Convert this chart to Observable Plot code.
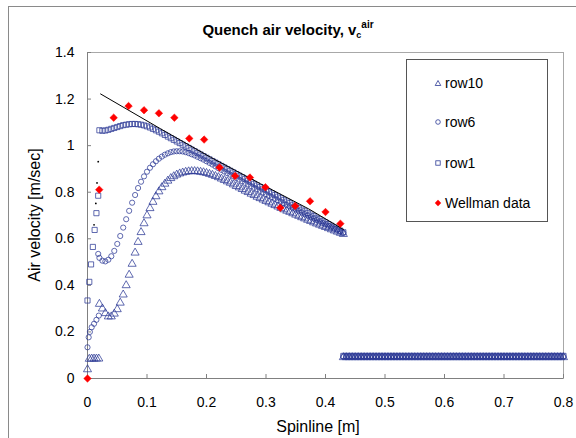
<!DOCTYPE html>
<html><head><meta charset="utf-8">
<script src="https://cdn.jsdelivr.net/npm/d3@7"></script>
<script src="https://cdn.jsdelivr.net/npm/@observablehq/plot@0.6"></script>
<style>
html,body{margin:0;padding:0;background:#fff;}
body{width:576px;height:438px;overflow:hidden;font-family:"Liberation Sans",Arial,sans-serif;color:#000;}
#wrap{position:relative;width:576px;height:438px;overflow:hidden;}
#border{position:absolute;left:8px;top:6px;width:600px;height:460px;border:1px solid #8a8a8a;box-sizing:border-box;}
#chart{position:absolute;left:0;top:0;}
#title{position:absolute;left:0;top:19px;width:576px;text-align:center;font-weight:bold;font-size:15px;}
#title sub{font-size:9px;vertical-align:-3px;}
#title sup{font-size:10px;vertical-align:7px;}
#ylabel{position:absolute;left:35px;top:215px;transform:translate(-50%,-50%) rotate(-90deg);font-size:16px;white-space:nowrap;}
#xlabel{position:absolute;left:318px;top:427px;transform:translate(-50%,-50%);font-size:16px;white-space:nowrap;}
#legend{position:absolute;left:406px;top:59px;width:142px;height:163px;border:1px solid #555;box-sizing:border-box;background:#fff;}
.item{position:absolute;left:0;height:16px;font-size:14px;line-height:16px;}
.item svg{position:absolute;left:26px;top:3px;}
.item span{position:absolute;left:38px;top:0;white-space:nowrap;}
</style></head>
<body><div id="wrap">
<div id="border"></div>
<div id="chart"></div>
<div id="title">Quench air velocity, v<sub>c</sub><sup>air</sup></div>
<div id="ylabel">Air velocity [m/sec]</div>
<div id="xlabel">Spinline [m]</div>
<div id="legend"></div>
</div>
<script>
const seriesNames = ["row10", "row6", "row1", "Wellman data"];
const xTicks = [0, 0.1, 0.2, 0.3, 0.4, 0.5, 0.6, 0.7, 0.8];
const yTicks = [0, 0.2, 0.4, 0.6, 0.8, 1, 1.2, 1.4];

// shared x positions of the main (0.02 .. 0.43) part of the CFD rows
const xMain = [0.020,0.025,0.030,0.035,0.040,0.045,0.050,0.055,0.060,0.065,0.070,0.075,0.080,0.085,0.090,0.095,0.100,0.105,0.110,0.115,0.120,0.125,0.130,0.135,0.140,0.145,0.150,0.155,0.160,0.165,0.170,0.175,0.180,0.185,0.190,0.195,0.200,0.205,0.210,0.215,0.220,0.225,0.230,0.235,0.240,0.245,0.250,0.255,0.260,0.265,0.270,0.275,0.280,0.285,0.290,0.295,0.300,0.305,0.310,0.315,0.320,0.325,0.330,0.335,0.340,0.345,0.350,0.355,0.360,0.365,0.370,0.375,0.380,0.385,0.390,0.395,0.400,0.405,0.410,0.415,0.420,0.425,0.430];

const row1Main = [1.066,1.064,1.065,1.068,1.072,1.076,1.080,1.084,1.088,1.090,1.092,1.093,1.093,1.092,1.090,1.087,1.083,1.078,1.072,1.066,1.060,1.053,1.046,1.039,1.032,1.025,1.018,1.011,1.004,0.997,0.990,0.983,0.976,0.969,0.962,0.955,0.948,0.941,0.934,0.927,0.920,0.913,0.906,0.899,0.892,0.885,0.878,0.871,0.864,0.857,0.850,0.843,0.836,0.829,0.822,0.815,0.809,0.802,0.795,0.788,0.781,0.774,0.767,0.760,0.753,0.746,0.739,0.732,0.725,0.718,0.711,0.704,0.697,0.690,0.684,0.677,0.670,0.663,0.656,0.649,0.642,0.635,0.628];

const row6Main = [0.518,0.506,0.503,0.510,0.525,0.548,0.578,0.612,0.648,0.684,0.720,0.755,0.788,0.818,0.845,0.868,0.888,0.905,0.920,0.933,0.944,0.953,0.961,0.967,0.972,0.975,0.976,0.976,0.975,0.972,0.968,0.963,0.958,0.952,0.946,0.940,0.933,0.926,0.919,0.911,0.903,0.896,0.889,0.882,0.875,0.868,0.861,0.854,0.847,0.840,0.833,0.826,0.819,0.813,0.806,0.799,0.792,0.785,0.779,0.772,0.765,0.759,0.752,0.745,0.739,0.732,0.726,0.719,0.713,0.706,0.700,0.693,0.687,0.681,0.674,0.668,0.662,0.656,0.650,0.644,0.638,0.632,0.626];

const row10Main = [0.320,0.300,0.280,0.266,0.266,0.278,0.297,0.325,0.360,0.400,0.445,0.492,0.540,0.586,0.628,0.666,0.700,0.731,0.758,0.782,0.803,0.821,0.836,0.849,0.860,0.868,0.875,0.880,0.884,0.887,0.889,0.890,0.890,0.889,0.887,0.885,0.882,0.878,0.874,0.869,0.864,0.858,0.852,0.846,0.840,0.833,0.826,0.820,0.813,0.806,0.800,0.793,0.787,0.780,0.774,0.768,0.762,0.756,0.750,0.744,0.738,0.732,0.726,0.720,0.715,0.709,0.703,0.698,0.692,0.687,0.681,0.676,0.670,0.665,0.660,0.655,0.650,0.645,0.640,0.635,0.630,0.625,0.620];

// points right at the inlet (x < 0.02)
const row1StartX = [0, 0.003, 0.006, 0.009, 0.012, 0.015, 0.018];
const row1StartY = [0.335, 0.415, 0.490, 0.565, 0.638, 0.710, 0.785];
const row6StartX = [0, 0.002, 0.004, 0.007, 0.011, 0.015, 0.019, 0.018];
const row6StartY = [0.134, 0.177, 0.200, 0.220, 0.235, 0.252, 0.270, 0.535];
const row10StartX = [0, 0.003, 0.007, 0.011, 0.015, 0.019];
const row10StartY = [0.039, 0.084, 0.085, 0.085, 0.085, 0.085];

// flat part after the quench zone (0.43 .. 0.8)
const xTail = [0.430,0.435,0.440,0.445,0.450,0.455,0.460,0.465,0.470,0.475,0.480,0.485,0.490,0.495,0.500,0.505,0.510,0.515,0.520,0.525,0.530,0.535,0.540,0.545,0.550,0.555,0.560,0.565,0.570,0.575,0.580,0.585,0.590,0.595,0.600,0.605,0.610,0.615,0.620,0.625,0.630,0.635,0.640,0.645,0.650,0.655,0.660,0.665,0.670,0.675,0.680,0.685,0.690,0.695,0.700,0.705,0.710,0.715,0.720,0.725,0.730,0.735,0.740,0.745,0.750,0.755,0.760,0.765,0.770,0.775,0.780,0.785,0.790,0.795,0.800];
const row1TailY = 0.097;
const row6TailY = 0.094;
const row10TailY = 0.091;

// black reference line and its marks at the inlet
const lineX = [0.022, 0.123, 0.207, 0.291, 0.372, 0.430];
const lineY = [1.222, 1.072, 0.950, 0.836, 0.728, 0.640];
const blackDotX = [0.011, 0.014, 0.016, 0.018];
const blackDotY = [0.660, 0.752, 0.840, 0.931];

// Wellman measurements
const wellX = [0, 0.0197, 0.044, 0.069, 0.095, 0.120, 0.146, 0.171, 0.196, 0.222, 0.248, 0.273, 0.299, 0.324, 0.349, 0.374, 0.400, 0.425];
const wellY = [0, 0.811, 1.120, 1.170, 1.152, 1.139, 1.120, 1.031, 1.026, 0.906, 0.870, 0.863, 0.821, 0.733, 0.741, 0.761, 0.715, 0.665];

const blue = "#2c3a96";
const red = "#ff0000";

function pts(xs, ys) { return xs.map((x, i) => ({x, y: ys[i]})); }
function tail(y) { return xTail.map(x => ({x, y})); }

const row10 = [...pts(row10StartX, row10StartY), ...pts(xMain, row10Main), ...tail(row10TailY)];
const row6 = [...pts(row6StartX, row6StartY), ...pts(xMain, row6Main), ...tail(row6TailY)];
const row1 = [...pts(row1StartX, row1StartY), ...pts(xMain, row1Main), ...tail(row1TailY)];
const blackLine = pts(lineX, lineY);
const blackDots = pts(blackDotX, blackDotY);
const well = pts(wellX, wellY);

const chart = Plot.plot({
  width: 576, height: 438,
  marginLeft: 87, marginRight: 13, marginTop: 52, marginBottom: 60,
  style: {fontFamily: "'Liberation Sans', Arial, sans-serif", fontSize: "14px", background: "transparent", color: "#000"},
  x: {domain: [0, 0.8]},
  y: {domain: [0, 1.4]},
  marks: [
    Plot.frame({stroke: "#a8a8a8"}),
    Plot.ruleY([0], {stroke: "#808080"}),
    Plot.ruleX([0], {stroke: "#808080"}),
    Plot.axisX({ticks: xTicks, tickFormat: d => String(d), tickSize: -4, tickPadding: 23, stroke: "#808080", fill: "#000", label: null, fontSize: 14}),
    Plot.axisY({ticks: yTicks, tickFormat: d => String(d), tickSize: -4, tickPadding: 17, stroke: "#808080", fill: "#000", label: null, fontSize: 14}),
    Plot.dot(row10, {x: "x", y: "y", symbol: "triangle", r: 3, stroke: blue, fill: "none", strokeWidth: 0.75}),
    Plot.dot(row6, {x: "x", y: "y", symbol: "circle", r: 2.6, stroke: blue, fill: "none", strokeWidth: 0.75}),
    Plot.dot(row1, {x: "x", y: "y", symbol: "square", r: 2.9, stroke: blue, fill: "none", strokeWidth: 0.75}),
    Plot.line(blackLine, {x: "x", y: "y", stroke: "#000", strokeWidth: 1}),
    Plot.dot(blackDots, {x: "x", y: "y", r: 0.9, fill: "#000"}),
    Plot.dot(well, {x: "x", y: "y", symbol: "diamond2", r: 3.4, fill: red, stroke: red, strokeWidth: 0.5})
  ]
});
document.getElementById("chart").appendChild(chart);

// legend
const legendSymbols = [
  '<svg width="10" height="10"><path d="M5,2.5L7.8,7.5L2.2,7.5Z" fill="none" stroke="' + blue + '" stroke-width="0.8"/></svg>',
  '<svg width="10" height="10"><circle cx="5" cy="5" r="2.3" fill="none" stroke="' + blue + '" stroke-width="0.8"/></svg>',
  '<svg width="10" height="10"><rect x="2.8" y="2.8" width="4.4" height="4.4" fill="none" stroke="' + blue + '" stroke-width="0.8"/></svg>',
  '<svg width="10" height="10"><path d="M5,1.8L8.2,5L5,8.2L1.8,5Z" fill="' + red + '"/></svg>'
];
const legendRows = [15, 54, 95, 135];
const leg = document.getElementById("legend");
seriesNames.forEach((name, i) => {
  const d = document.createElement("div");
  d.className = "item";
  d.style.top = legendRows[i] + "px";
  d.innerHTML = legendSymbols[i] + "<span>" + name + "</span>";
  leg.appendChild(d);
});
</script>
</body></html>
